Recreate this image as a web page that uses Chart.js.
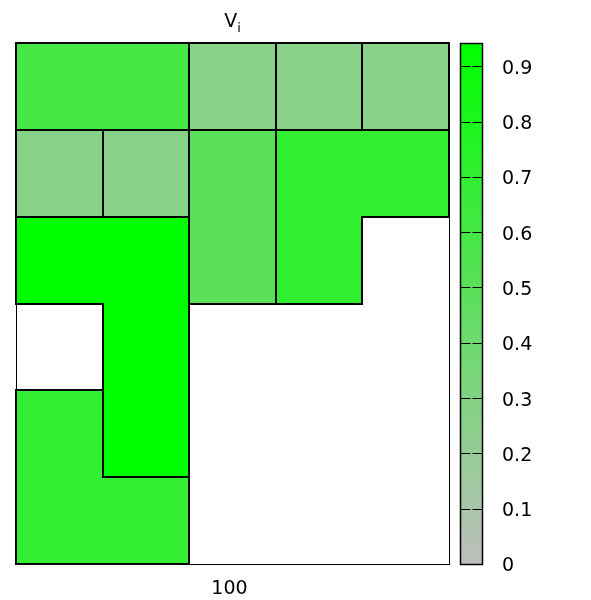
<!DOCTYPE html>
<html><head><meta charset="utf-8">
<script src="https://cdn.jsdelivr.net/npm/chart.js@4"></script>
<style>html,body{margin:0;padding:0;background:#fff}</style>
</head><body>
<canvas id="c" width="591" height="600"></canvas>
<script>
// ---- data ----
const columns = [0, 1, 2, 3, 4];
const rows = [0, 1, 2, 3, 4, 5];           // top to bottom
// region id of each cell (-1 = empty)
const regionGrid = [
  [0, 0, 1, 2, 3],
  [4, 5, 6, 7, 7],
  [8, 8, 6, 7, -1],
  [-1, 8, -1, -1, -1],
  [9, 8, -1, -1, -1],
  [9, 9, -1, -1, -1]
];
const regionValues = [0.60, 0.27, 0.27, 0.27, 0.27, 0.27, 0.49, 0.70, 0.94, 0.69];
const colorbarTicks = [0, 0.1, 0.2, 0.3, 0.4, 0.5, 0.6, 0.7, 0.8, 0.9];
const colorMin = 0, colorMax = 0.942;
const titleMain = 'V', titleSub = 'i';
const xTitle = '100';

const FONT = 'DejaVu Sans';
const lowRGB = [190, 190, 190], highRGB = [0, 255, 0];
function colorFor(v) {
  const t = Math.max(0, Math.min(1, (v - colorMin) / (colorMax - colorMin)));
  const c = lowRGB.map((a, i) => Math.round(a + (highRGB[i] - a) * t));
  return `rgb(${c[0]},${c[1]},${c[2]})`;
}

const cellPoints = [];
rows.forEach(r => columns.forEach(c => {
  const reg = regionGrid[r][c];
  cellPoints.push({ x: c + 0.5, y: r + 0.5, region: reg, v: reg >= 0 ? regionValues[reg] : null });
}));

const regionPlugin = {
  id: 'regions',
  afterDatasetsDraw(chart) {
    const ctx = chart.ctx, xs = chart.scales.x, ys = chart.scales.y, cs = chart.scales.y2;
    const X = v => Math.round(xs.getPixelForValue(v)), Y = v => Math.round(ys.getPixelForValue(v));
    ctx.save();
    // fills
    cellPoints.forEach(p => {
      if (p.region < 0) return;
      const c = p.x - 0.5, r = p.y - 0.5;
      ctx.fillStyle = colorFor(p.v);
      ctx.fillRect(X(c), Y(r), X(c + 1) - X(c), Y(r + 1) - Y(r));
    });
    // outer frame
    const L = X(0), R = X(columns.length), T = Y(0), B = Y(rows.length);
    ctx.strokeStyle = '#000'; ctx.lineWidth = 1;
    ctx.strokeRect(L + 0.5, T + 0.5, R - L, B - T);
    // region borders
    const reg = (r, c) => (r < 0 || c < 0 || r >= rows.length || c >= columns.length) ? -1 : regionGrid[r][c];
    ctx.lineWidth = 2; ctx.strokeStyle = '#000'; ctx.lineCap = 'square';
    ctx.beginPath();
    rows.forEach(r => columns.forEach(c => {
      const g = reg(r, c);
      const up = reg(r - 1, c);
      if (g !== up && (g >= 0 || up >= 0)) { ctx.moveTo(X(c), Y(r)); ctx.lineTo(X(c + 1), Y(r)); }
      const left = reg(r, c - 1);
      if (g !== left && (g >= 0 || left >= 0)) { ctx.moveTo(X(c), Y(r)); ctx.lineTo(X(c), Y(r + 1)); }
      if (r === rows.length - 1 && g >= 0) { ctx.moveTo(X(c), Y(r + 1)); ctx.lineTo(X(c + 1), Y(r + 1)); }
      if (c === columns.length - 1 && g >= 0) { ctx.moveTo(X(c + 1), Y(r)); ctx.lineTo(X(c + 1), Y(r + 1)); }
    }));
    ctx.stroke();

    // colorbar
    const bx0 = 460.5, bx1 = 482.5;
    const by0 = Math.round(cs.getPixelForValue(colorMax)) + 0.5, by1 = Math.round(cs.getPixelForValue(colorMin)) + 0.5;
    const grad = ctx.createLinearGradient(0, by1, 0, by0);
    grad.addColorStop(0, colorFor(colorMin));
    grad.addColorStop(1, colorFor(colorMax));
    ctx.fillStyle = grad;
    ctx.fillRect(bx0, by0, bx1 - bx0, by1 - by0);
    ctx.lineWidth = 1; ctx.lineCap = 'butt';
    ctx.beginPath();
    colorbarTicks.forEach(v => {
      if (v === colorMin) return;
      const y = Math.round(cs.getPixelForValue(v)) + 0.5;
      ctx.moveTo(bx0, y); ctx.lineTo(bx0 + 10, y);
      ctx.moveTo(bx1 - 10, y); ctx.lineTo(bx1, y);
    });
    ctx.stroke();
    ctx.lineWidth = 1.5;
    ctx.strokeRect(bx0, by0, bx1 - bx0, by1 - by0);

    // title V_i
    ctx.fillStyle = '#000';
    ctx.textBaseline = 'alphabetic'; ctx.textAlign = 'left';
    ctx.font = `19px '${FONT}'`;
    const wM = ctx.measureText(titleMain).width;
    ctx.font = `13px '${FONT}'`;
    const wS = ctx.measureText(titleSub).width;
    const cx = (L + R) / 2;
    const x0 = cx - (wM + wS) / 2;
    ctx.font = `19px '${FONT}'`;
    ctx.fillText(titleMain, x0, 27);
    ctx.font = `13px '${FONT}'`;
    ctx.fillText(titleSub, x0 + wM, 32);
    // x-axis label
    ctx.font = `19px '${FONT}'`;
    ctx.textAlign = 'center';
    ctx.fillText(xTitle, cx - 3, 594);
    ctx.restore();
  }
};

new Chart(document.getElementById('c'), {
  type: 'scatter',
  data: { datasets: [{ data: cellPoints, pointRadius: 0, pointHoverRadius: 0, yAxisID: 'y', xAxisID: 'x' }] },
  options: {
    responsive: false, animation: false,
    layout: { padding: { left: 16, top: 43, right: 0, bottom: 0 } },
    plugins: { legend: { display: false }, tooltip: { enabled: false }, title: { display: false } },
    scales: {
      x: {
        type: 'linear', min: 0, max: columns.length, position: 'bottom',
        grid: { display: false, drawTicks: false }, border: { display: false },
        ticks: { display: false },
        title: { display: false },
        afterFit: s => { s.height = 36; s.paddingLeft = 0; s.paddingRight = 0; s.paddingTop = 0; s.paddingBottom = 0; }
      },
      y: { type: 'linear', min: 0, max: rows.length, reverse: true, display: false },
      y2: {
        type: 'linear', position: 'right', min: colorMin, max: colorMax,
        grid: { display: false, drawTicks: false }, border: { display: false },
        afterBuildTicks: s => { s.ticks = colorbarTicks.map(v => ({ value: v })); },
        ticks: { color: '#000', padding: 53, labelOffset: 2.5, font: { family: FONT, size: 19 }, callback: v => String(Math.round(v * 10) / 10) },
        afterFit: s => { s.width = 142; s.paddingTop = 0; s.paddingBottom = 0; s.paddingLeft = 0; s.paddingRight = 0; }
      }
    }
  },
  plugins: [regionPlugin]
});
</script>
</body></html>
